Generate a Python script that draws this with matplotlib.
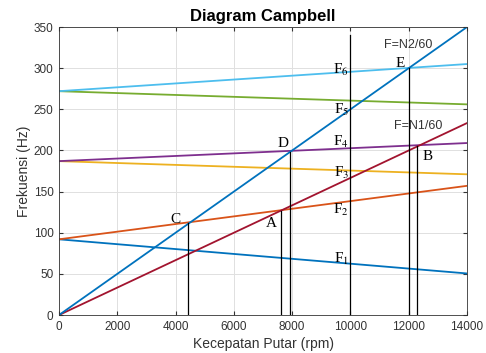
import matplotlib
matplotlib.use("Agg")
import numpy as np
import matplotlib.pyplot as plt

plt.rcParams["mathtext.fontset"] = "stix"

# data
rpm_ends = [0, 14000]
f1 = [92, 50.5]
f2 = [92, 157]
f3 = [187, 171]
f4 = [187, 209]
f5 = [272, 256]
f6 = [272, 305]
n1_line = [0, 233.3]   # F = N1/60
n2_line = [0, 350]     # F = N2/60

mode_lines = [f1, f2, f3, f4, f5, f6]
mode_colors = ["#0072BD", "#D95319", "#EDB120", "#7E2F8E", "#77AC30", "#4DBEEE"]

# vertical markers at crossing points
vline_rpm = [4430, 7600, 7940, 10000, 12000, 12300]
vline_top = [112, 127, 198, 340, 300, 206]

# point letters
pt_names = ["C", "A", "D", "E", "B"]
pt_rpm = [4000, 7300, 7680, 11700, 12650]
pt_hz = [116, 111, 209, 306, 193]

# F labels
f_names = ["F$_1$", "F$_2$", "F$_3$", "F$_4$", "F$_5$", "F$_6$"]
f_rpm = [9950, 9950, 9950, 9950, 9950, 9950]
f_hz = [68, 128, 173, 210, 249, 298]

fig = plt.figure(figsize=(4.86, 3.53), dpi=100)
ax = fig.add_axes([0.1214, 0.1076, 0.8396, 0.8159])

for ys, c in zip(mode_lines, mode_colors):
    ax.plot(rpm_ends, ys, color=c, lw=1.3)
ax.plot(rpm_ends, n1_line, color="#A2142F", lw=1.3)
ax.plot(rpm_ends, n2_line, color="#0072BD", lw=1.3)

for x, top in zip(vline_rpm, vline_top):
    ax.plot([x, x], [0, top], color="black", lw=0.9)

serif = ["Liberation Serif", "DejaVu Serif"]
for name, x, y in zip(pt_names, pt_rpm, pt_hz):
    ax.text(x, y, name, family=serif, fontsize=11, ha="center", va="center")
for name, x, y in zip(f_names, f_rpm, f_hz):
    ax.text(x, y, name, family=serif, fontsize=11, ha="right", va="center")

sans = "Liberation Sans"
ax.text(11980, 328, "F=N2/60", fontsize=9, family=sans, ha="center", va="center", color="#333333")
ax.text(12330, 229.5, "F=N1/60", fontsize=9, family=sans, ha="center", va="center", color="#333333")

ax.set_xlim(0, 14000)
ax.set_ylim(0, 350)
ax.set_xticks(np.arange(0, 14001, 2000))
ax.set_yticks(np.arange(0, 351, 50))
ax.grid(True, color="#e0e0e0", lw=0.7)
ax.set_axisbelow(True)
ax.tick_params(direction="in", top=True, right=True, labelsize=8.5, colors="#333333", length=3, pad=4)
for s in ax.spines.values():
    s.set_color("#333333")
    s.set_linewidth(0.6)
for lab in ax.get_xticklabels() + ax.get_yticklabels():
    lab.set_family(sans)

ax.set_xlabel("Kecepatan Putar (rpm)", fontsize=10, family=sans, color="#333333", labelpad=3)
ax.set_ylabel("Frekuensi (Hz)", fontsize=10, family=sans, color="#333333", labelpad=2)
ax.set_title("Diagram Campbell", fontsize=12, fontweight="bold", family=sans, pad=4)

fig.savefig("out.png", dpi=100)
